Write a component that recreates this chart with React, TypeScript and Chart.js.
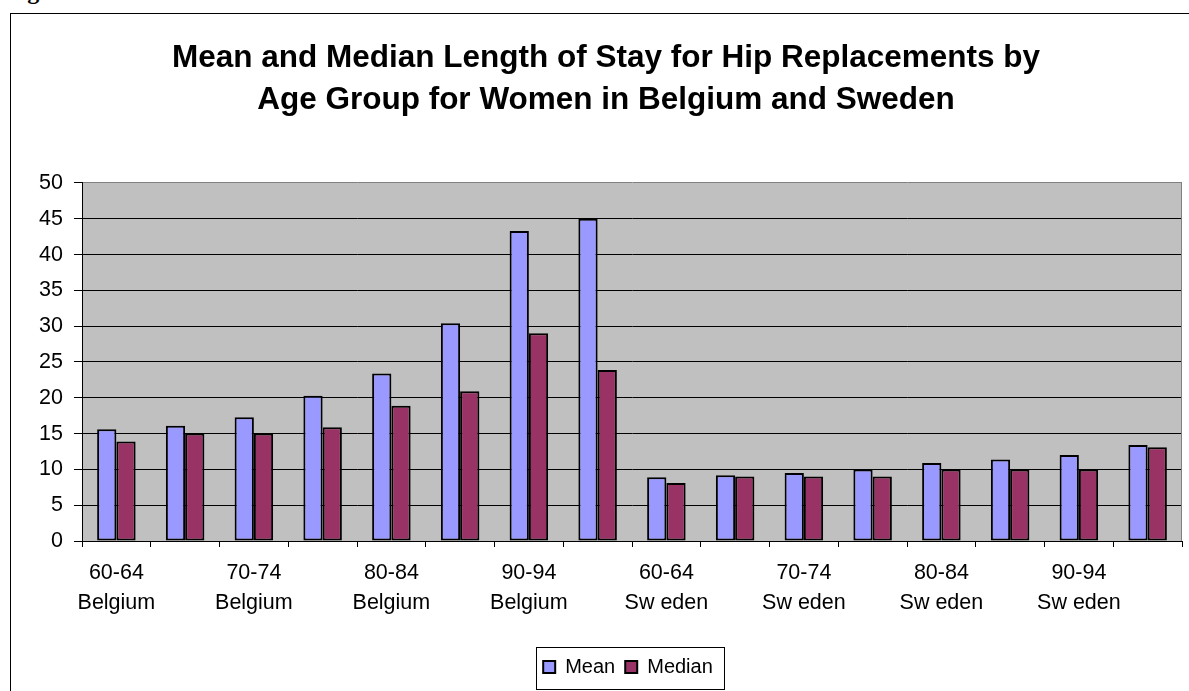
import React, { useEffect, useRef } from "react";
import { Chart, registerables } from "chart.js";

Chart.register(...registerables);

const FONT = 'Arial, "Liberation Sans", sans-serif';

const titleLines = [
  "Mean and Median Length of Stay for Hip Replacements by",
  "Age Group for Women in Belgium and Sweden",
];

const ageGroups = ["60-64", "65-69", "70-74", "75-79", "80-84", "85-89", "90-94", "95+"];
const countries = ["Belgium", "Sw eden"];

const belgiumMean = [15.6, 16.1, 17.3, 20.3, 23.4, 30.4, 43.3, 45.0];
const belgiumMedian = [13.9, 15.0, 15.0, 15.9, 18.9, 20.9, 29.0, 23.9];
const swedenMean = [8.9, 9.2, 9.5, 10.0, 10.9, 11.4, 12.0, 13.4];
const swedenMedian = [8.1, 9.0, 9.0, 9.0, 10.0, 10.0, 10.0, 13.1];

const seriesNames = ["Mean", "Median"];
const seriesColors = ["#9999FF", "#993366"];

const yMin = 0;
const yMax = 50;
const yStep = 5;

const categories: string[][] = [];
countries.forEach((c) => ageGroups.forEach((a) => categories.push([a, c])));
const meanValues = [...belgiumMean, ...swedenMean];
const medianValues = [...belgiumMedian, ...swedenMedian];

const plotPlugin = {
  id: "plotDecor",
  beforeDraw(chart: any) {
    const { ctx, chartArea } = chart;
    ctx.save();
    ctx.fillStyle = "#C0C0C0";
    ctx.fillRect(chartArea.left, chartArea.top, chartArea.right - chartArea.left, chartArea.bottom - chartArea.top);
    ctx.restore();
  },
  beforeDatasetsDraw(chart: any) {
    const { ctx, chartArea } = chart;
    ctx.save();
    ctx.strokeStyle = "#808080";
    ctx.lineWidth = 1;
    ctx.beginPath();
    ctx.moveTo(chartArea.right - 0.5, chartArea.top);
    ctx.lineTo(chartArea.right - 0.5, chartArea.bottom);
    ctx.stroke();
    ctx.restore();
  },
  afterLayout(chart: any) {
    const l = chart.legend;
    if (l) {
      l.left += 22;
      l.right += 22;
      l.top -= 4;
      l.bottom -= 4;
    }
  },
  afterDraw(chart: any) {
    const l = chart.legend;
    if (!l || !l.legendHitBoxes || !l.legendHitBoxes.length) return;
    const hb = l.legendHitBoxes;
    const first = hb[0];
    const last = hb[hb.length - 1];
    const x1 = Math.round(first.left - 7) + 0.5;
    const x2 = Math.round(last.left + last.width + 11) + 0.5;
    const y1 = Math.round(l.top) + 0.5;
    const y2 = y1 + 42;
    const { ctx } = chart;
    ctx.save();
    ctx.strokeStyle = "#000";
    ctx.lineWidth = 1;
    ctx.strokeRect(x1, y1, x2 - x1, y2 - y1);
    ctx.restore();
  },
};

export default function App() {
  const ref = useRef<HTMLCanvasElement | null>(null);

  useEffect(() => {
    if (!ref.current) return;
    const chart = new Chart(ref.current, {
      type: "bar",
      data: {
        labels: categories as any,
        datasets: [
          {
            label: seriesNames[0],
            data: meanValues,
            backgroundColor: seriesColors[0],
            borderColor: "#000",
            borderWidth: 2,
            borderSkipped: false,
          },
          {
            label: seriesNames[1],
            data: medianValues,
            backgroundColor: seriesColors[1],
            borderColor: "#000",
            borderWidth: 2,
            borderSkipped: false,
          },
        ],
      },
      options: {
        animation: false,
        responsive: false,
        devicePixelRatio: 1,
        layout: { padding: { left: 30, right: 7, top: 0, bottom: 0 } },
        datasets: { bar: { categoryPercentage: 0.56, barPercentage: 1 } },
        plugins: {
          title: {
            display: true,
            text: titleLines,
            color: "#000",
            font: { family: FONT, size: 31.5, weight: "bold", lineHeight: 1.3333 },
            padding: { top: 37, bottom: 62 },
          },
          legend: {
            position: "bottom",
            labels: {
              color: "#000",
              font: { family: FONT, size: 20 },
              boxWidth: 12,
              boxHeight: 12,
              padding: 10,
            },
          },
          tooltip: { enabled: false },
        },
        scales: {
          x: {
            grid: { drawOnChartArea: false, drawTicks: true, tickLength: 6, color: "#000", offset: true },
            border: { color: "#000", width: 1 },
            ticks: {
              autoSkip: false,
              maxRotation: 0,
              minRotation: 0,
              padding: 11,
              color: "#000",
              font: { family: FONT, size: 21.5, lineHeight: 1.4 },
              callback: (_v: any, i: number) => (i % 2 === 0 ? categories[i] : ""),
            },
            afterFit: (s: any) => {
              s.height = 110;
            },
          },
          y: {
            min: yMin,
            max: yMax,
            ticks: { stepSize: yStep, padding: 11, color: "#000", font: { family: FONT, size: 21.5 } },
            grid: {
              color: (c: any) => (c.tick && c.tick.value === yMax ? "#808080" : "#000"),
              tickColor: "#000",
              tickLength: 8,
            },
            border: { color: "#000", width: 1 },
            afterFit: (s: any) => {
              s.width = 52;
            },
          },
        },
      } as any,
      plugins: [plotPlugin],
    });
    return () => chart.destroy();
  }, []);

  return (
    <div
      style={{
        position: "fixed",
        left: 0,
        top: 0,
        width: 1189,
        height: 691,
        overflow: "hidden",
        background: "#fff",
      }}
    >
      <div
        style={{
          position: "absolute",
          left: 6,
          top: -21,
          font: 'bold 24px "Liberation Serif", "Times New Roman", serif',
          lineHeight: "24px",
          color: "#000",
          whiteSpace: "nowrap",
        }}
      >
        Figure
      </div>
      <div
        style={{
          position: "absolute",
          left: 10,
          top: 13,
          width: 1400,
          height: 900,
          border: "1px solid #000",
        }}
      />
      <canvas ref={ref} width={1189} height={691} style={{ position: "absolute", left: 0, top: 0, width: 1189, height: 691 }} />
    </div>
  );
}
